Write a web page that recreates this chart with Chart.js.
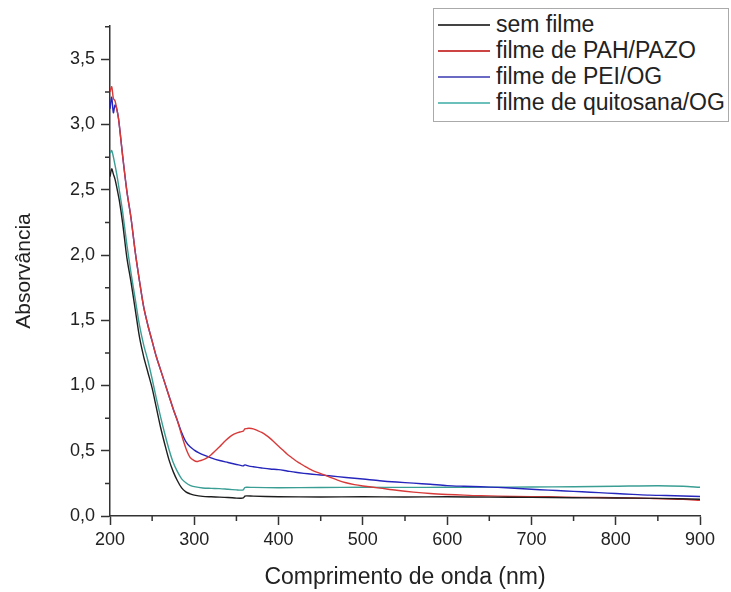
<!DOCTYPE html>
<html>
<head>
<meta charset="utf-8">
<script src="https://cdn.jsdelivr.net/npm/chart.js@4/dist/chart.umd.min.js"></script>
<style>
  body { margin: 0; background: #fff; }
  #wrap { position: relative; width: 731px; height: 592px; }
  #legend {
    position: absolute; left: 433px; top: 8px; width: 296px; height: 114px;
    border: 1px solid #aaa; background: #fff; box-sizing: border-box;
    font-family: "Liberation Sans", Arial, sans-serif; font-size: 23px; color: #222;
    padding-top: 2px;
  }
  .row { height: 26px; line-height: 26px; white-space: nowrap; position: relative; }
  .row span.ln { position: absolute; left: 4px; top: 13px; width: 52px; height: 0; border-top: 2px solid; }
  .row span.tx { position: absolute; left: 62px; top: 0; }
</style>
</head>
<body>
<div id="wrap">
  <canvas id="chart1" width="731" height="592"></canvas>
  <div id="legend"></div>
</div>
<script>
// absorbance spectra, [wavelength nm, absorbance]
const semFilme = [[200,2.60],[202,2.66],[204,2.62],[206,2.58],[208,2.52],[211,2.42],[215,2.245],[220,1.98],[225,1.79],
  [230,1.58],[235,1.37],[240,1.22],[245,1.10],[250,0.98],[255,0.83],[260,0.68],[265,0.55],[270,0.43],[275,0.34],
  [280,0.27],[285,0.215],[290,0.185],[295,0.17],[300,0.16],[310,0.15],[320,0.147],[330,0.145],[340,0.142],[350,0.137],
  [355,0.136],[358,0.138],[360,0.152],[362,0.154],[370,0.152],[400,0.148],[450,0.146],[500,0.147],[550,0.146],
  [600,0.147],[650,0.145],[700,0.143],[750,0.14],[800,0.138],[850,0.135],[900,0.128]];

const pahPazo = [[200,3.25],[202,3.29],[204,3.2],[206,3.18],[208,3.12],[210,3.05],[212,2.94],[215,2.76],[220,2.49],
  [225,2.28],[230,2.02],[235,1.80],[240,1.60],[245,1.46],[250,1.34],[255,1.22],[260,1.12],[265,1.02],[270,0.92],
  [275,0.82],[280,0.73],[285,0.62],[290,0.52],[295,0.45],[300,0.425],[303,0.418],[305,0.42],[310,0.43],[315,0.445],
  [320,0.47],[325,0.50],[330,0.53],[335,0.565],[340,0.595],[345,0.62],[350,0.635],[355,0.645],[358,0.65],[360,0.668],
  [362,0.67],[365,0.672],[370,0.668],[375,0.655],[380,0.64],[385,0.62],[390,0.595],[395,0.565],[400,0.535],
  [405,0.505],[410,0.475],[415,0.45],[420,0.425],[425,0.405],[430,0.385],[440,0.35],[450,0.325],[460,0.30],
  [470,0.275],[480,0.255],[490,0.24],[500,0.23],[520,0.214],[540,0.197],[560,0.183],[580,0.172],[600,0.165],
  [620,0.16],[640,0.155],[680,0.15],[720,0.147],[760,0.143],[800,0.14],[840,0.135],[880,0.128],[900,0.12]];

const peiOg = [[200,3.12],[202,3.21],[204,3.09],[206,3.15],[208,3.12],[210,3.05],[212,2.94],[215,2.76],[220,2.49],
  [225,2.28],[230,2.02],[235,1.80],[240,1.60],[245,1.46],[250,1.34],[255,1.22],[260,1.12],[265,1.02],[270,0.92],
  [275,0.82],[280,0.73],[285,0.64],[290,0.57],[295,0.53],[300,0.505],[305,0.485],[310,0.47],[320,0.445],[330,0.425],
  [340,0.41],[350,0.395],[355,0.388],[358,0.384],[360,0.392],[362,0.388],[365,0.382],[370,0.377],[380,0.368],
  [390,0.36],[400,0.355],[410,0.345],[420,0.335],[430,0.327],[440,0.32],[450,0.314],[460,0.308],[480,0.295],
  [500,0.283],[520,0.27],[540,0.26],[560,0.252],[580,0.243],[600,0.233],[620,0.228],[640,0.224],[660,0.219],
  [680,0.213],[700,0.205],[720,0.198],[740,0.192],[760,0.186],[780,0.179],[800,0.172],[820,0.166],[840,0.16],
  [860,0.157],[880,0.153],[900,0.15]];

const quitosanaOg = [[200,2.78],[202,2.80],[205,2.72],[208,2.62],[211,2.50],[215,2.33],[220,2.08],[225,1.86],
  [230,1.66],[235,1.46],[240,1.31],[245,1.19],[250,1.05],[255,0.90],[260,0.76],[265,0.63],[270,0.51],[275,0.41],
  [280,0.34],[285,0.285],[290,0.255],[295,0.235],[300,0.225],[310,0.215],[320,0.212],[330,0.21],[340,0.205],
  [350,0.20],[355,0.198],[358,0.20],[360,0.218],[362,0.22],[370,0.219],[400,0.217],[450,0.218],[500,0.22],
  [550,0.219],[600,0.22],[650,0.221],[700,0.222],[750,0.224],[800,0.228],[850,0.232],[880,0.228],[900,0.22]];

const seriesNames = ['sem filme', 'filme de PAH/PAZO', 'filme de PEI/OG', 'filme de quitosana/OG'];
const seriesColors = ['#1e1e1e', '#d83a3a', '#2626bc', '#3a9e94'];
const legendColors = ['#444', '#cc4444', '#6a6ac4', '#6cc0bc'];
const xTicks = [200, 300, 400, 500, 600, 700, 800, 900];
const yTicks = [0, 0.5, 1.0, 1.5, 2.0, 2.5, 3.0, 3.5];

const FONT = "'Liberation Sans', Arial, sans-serif";
const AXIS = '#333';

function toPts(arr) { return arr.map(p => ({x: p[0], y: p[1]})); }

// small ticks between the labelled ones
const minorTicks = {
  id: 'minorTicks',
  afterDraw(chart) {
    const {ctx, scales: {x, y}} = chart;
    ctx.save();
    ctx.strokeStyle = AXIS;
    ctx.lineWidth = 1.5;
    ctx.beginPath();
    for (let v = 250; v < 900; v += 100) {
      const px = x.getPixelForValue(v);
      ctx.moveTo(px, y.bottom); ctx.lineTo(px, y.bottom + 5);
    }
    for (let v = 0.25; v <= y.max; v += 0.5) {
      const py = y.getPixelForValue(v);
      ctx.moveTo(x.left, py); ctx.lineTo(x.left - 5, py);
    }
    ctx.stroke();
    ctx.restore();
  }
};

const sets = [semFilme, pahPazo, peiOg, quitosanaOg];

new Chart(document.getElementById('chart1'), {
  type: 'line',
  data: {
    datasets: sets.map((s, i) => ({
      label: seriesNames[i],
      data: toPts(s),
      borderColor: seriesColors[i],
      borderWidth: 1.4,
      pointRadius: 0,
      tension: 0.3,
      fill: false
    }))
  },
  options: {
    responsive: false,
    animation: false,
    layout: { padding: { top: 26, right: 31, left: 0, bottom: 0 } },
    plugins: { legend: { display: false }, tooltip: { enabled: false } },
    scales: {
      x: {
        type: 'linear', min: 200, max: 900,
        afterFit: s => { s.height = 76; },
        afterBuildTicks: s => { s.ticks = xTicks.map(v => ({value: v})); },
        border: { color: AXIS, width: 1.5 },
        grid: { drawOnChartArea: false, drawTicks: true, tickLength: 9, tickColor: AXIS, tickWidth: 1.5 },
        ticks: { color: '#222', font: { family: FONT, size: 18 }, padding: 4, maxRotation: 0 },
        title: { display: true, text: 'Comprimento de onda (nm)', color: '#222',
                 font: { family: FONT, size: 23 }, padding: { top: 0, bottom: 1 } }
      },
      y: {
        type: 'linear', min: 0, max: 3.755,
        afterFit: s => { s.width = 110; },
        afterBuildTicks: s => { s.ticks = yTicks.map(v => ({value: v})); },
        border: { color: AXIS, width: 1.5 },
        grid: { drawOnChartArea: false, drawTicks: true, tickLength: 9, tickColor: AXIS, tickWidth: 1.5 },
        ticks: { color: '#222', font: { family: FONT, size: 18 }, padding: 6,
                 callback: v => v.toFixed(1).replace('.', ',') },
        title: { display: true, text: 'Absorvância', color: '#222',
                 font: { family: FONT, size: 21 }, padding: { top: 12, bottom: 0 } }
      }
    }
  },
  plugins: [minorTicks]
});

// legend box in the upper right
const leg = document.getElementById('legend');
seriesNames.forEach((n, i) => {
  const row = document.createElement('div');
  row.className = 'row';
  row.innerHTML = '<span class="ln" style="border-color:' + legendColors[i] + '"></span><span class="tx">' + n + '</span>';
  leg.appendChild(row);
});
</script>
</body>
</html>
